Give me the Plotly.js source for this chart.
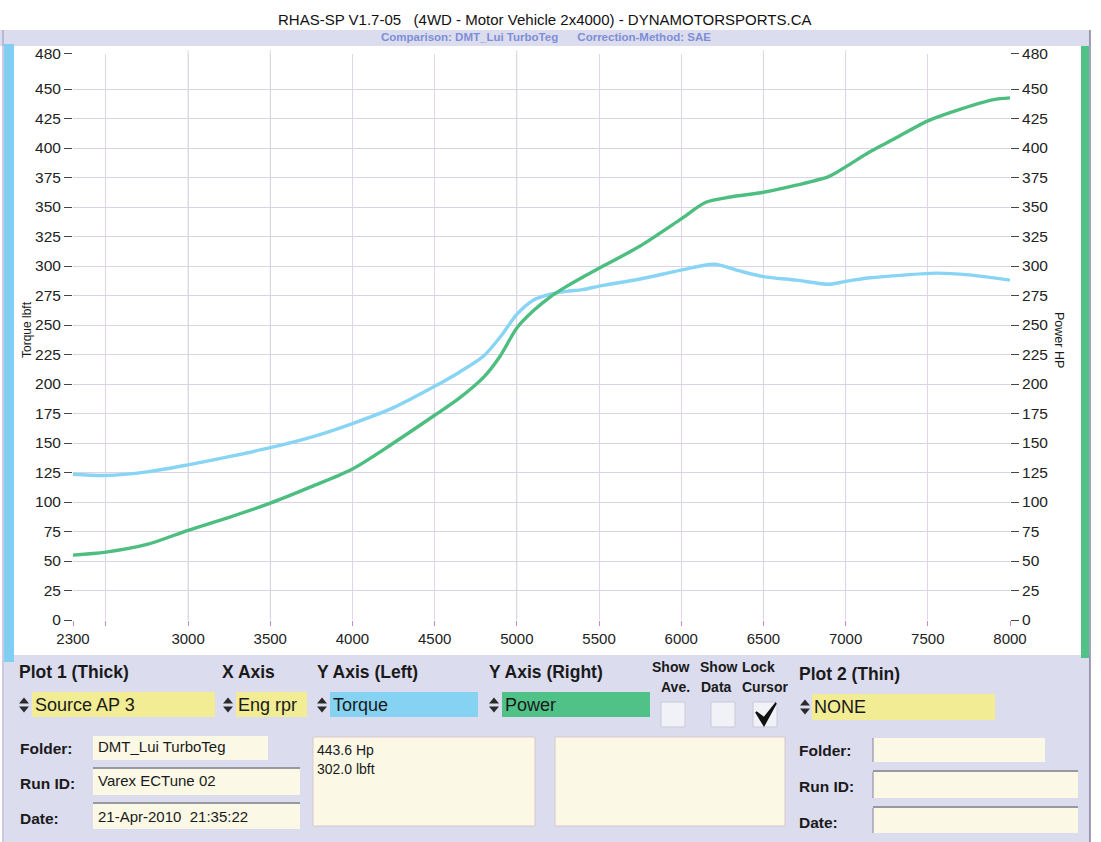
<!DOCTYPE html>
<html>
<head>
<meta charset="utf-8">
<script src="https://cdn.plot.ly/plotly-3.0.1.min.js"></script>
<style>html,body{margin:0;padding:0;background:#fff;}#chart{width:1101px;height:842px;}</style>
</head>
<body>
<div id="chart"></div>
<script>
// ---- data ----
const rpmTorque = [2300, 2500, 2750, 3000, 3250, 3500, 3750, 4000, 4250, 4500, 4650, 4800, 4900, 5000, 5100, 5200, 5300, 5400, 5500, 5750, 6000, 6200, 6350, 6500, 6700, 6900, 7000, 7150, 7350, 7550, 7750, 8000];
const torqueLbft = [123.5, 122.5, 125.5, 131.5, 138.5, 146, 155, 166.5, 180, 198, 210, 224, 240, 259, 271, 276, 278.5, 280, 283, 289, 296.5, 301.5, 296, 291, 288, 284.5, 287, 290, 292.3, 294, 292.5, 288];
const rpmPower = [2300, 2500, 2750, 3000, 3250, 3500, 3750, 4000, 4250, 4500, 4650, 4800, 4900, 5000, 5100, 5200, 5300, 5400, 5500, 5750, 6000, 6150, 6300, 6500, 6700, 6900, 7000, 7150, 7300, 7500, 7700, 7900, 8000];
const powerHp = [55, 57.5, 64, 76, 87, 99, 113, 128, 150, 173.5, 188, 206, 224, 247.5, 262, 273.5, 282.5, 290.5, 298, 317, 340, 354, 358.5, 362.5, 368.5, 376, 384, 397, 408, 423, 433, 441, 442.5];
const xTickVals = [2300, 2500, 3000, 3500, 4000, 4500, 5000, 5500, 6000, 6500, 7000, 7500, 8000];
const xTickText = ['2300', '', '3000', '3500', '4000', '4500', '5000', '5500', '6000', '6500', '7000', '7500', '8000'];
const yTickVals = [0, 25, 50, 75, 100, 125, 150, 175, 200, 225, 250, 275, 300, 325, 350, 375, 400, 425, 450, 480];
const greenGridRpm = [3000, 3500, 5000, 6500, 7000];

// ---- page helpers (pixel -> paper) ----
const W = 1101, H = 842;
const P = x => x / W;
const Q = y => 1 - y / H;
const FONT = 'Liberation Sans, Arial, sans-serif';

function rect(x0, y0, x1, y1, fill, lineColor, lw) {
  return {type: 'rect', xref: 'paper', yref: 'paper', x0: P(x0), x1: P(x1), y0: Q(y1), y1: Q(y0),
    fillcolor: fill, line: {color: lineColor || 'rgba(0,0,0,0)', width: lw || 0}, layer: 'below'};
}
function vline(x, y0, y1, color, w) {
  return {type: 'line', xref: 'paper', yref: 'paper', x0: P(x), x1: P(x), y0: Q(y0), y1: Q(y1),
    line: {color: color, width: w}, layer: 'below'};
}
function hline(x0, x1, y, color, w) {
  return {type: 'line', xref: 'paper', yref: 'paper', x0: P(x0), x1: P(x1), y0: Q(y), y1: Q(y),
    line: {color: color, width: w}, layer: 'below'};
}
function spinner(cx, cy) {
  const up = `M ${P(cx-5)} ${Q(cy-1.5)} L ${P(cx+5)} ${Q(cy-1.5)} L ${P(cx)} ${Q(cy-7.5)} Z`;
  const dn = `M ${P(cx-5)} ${Q(cy+1.5)} L ${P(cx+5)} ${Q(cy+1.5)} L ${P(cx)} ${Q(cy+7.5)} Z`;
  return [
    {type: 'path', xref: 'paper', yref: 'paper', path: up, fillcolor: '#2a2a2a', line: {width: 0}},
    {type: 'path', xref: 'paper', yref: 'paper', path: dn, fillcolor: '#2a2a2a', line: {width: 0}}
  ];
}
function txt(x, y, text, size, opts) {
  opts = opts || {};
  return Object.assign({xref: 'paper', yref: 'paper', x: P(x), y: Q(y), text: text, showarrow: false,
    xanchor: 'left', yanchor: 'middle', font: {family: FONT, size: size, color: '#1a1a1a'}}, opts);
}

const LAV = '#dcdcef';
const YEL = '#f2ec94';
const BLU = '#86d2f3';
const GRN = '#50c288';
const CREAM = '#fbf8e6';

const shapes = [
  rect(0, 30, 1090, 46, LAV),
  rect(4, 655, 1090, 842, LAV),
  rect(4, 44, 14, 662, '#80cff3'),
  rect(1081, 46, 1089, 658, GRN),
  vline(3, 30, 842, '#9c92c4', 1),
  vline(1090, 30, 842, '#6c618e', 1.2),
  rect(32, 692, 215, 717, YEL),
  rect(236, 692, 307, 717, YEL),
  rect(330, 692, 478, 717, BLU),
  rect(502, 692, 650, 717, GRN),
  rect(812, 694, 995, 720, YEL),
  rect(661, 702, 685, 727, '#f1f1f8', '#c9c9d8', 1),
  rect(711, 702, 735, 727, '#f1f1f8', '#c9c9d8', 1),
  rect(753, 702, 777, 727, '#f1f1f8', '#c9c9d8', 1),
  {type: 'path', xref: 'paper', yref: 'paper',
   path: `M ${P(756)} ${Q(712)} L ${P(764)} ${Q(725)} L ${P(776)} ${Q(703)} L ${P(764)} ${Q(718)} Z`,
   fillcolor: '#111', line: {color: '#111', width: 2}},
  rect(93, 736, 268, 760, CREAM),
  rect(93, 769, 300, 795, CREAM),
  hline(93, 300, 768, '#555', 1),
  rect(93, 804, 300, 829, CREAM),
  hline(93, 300, 803, '#555', 1),
  rect(313, 737, 535, 826, CREAM, '#d8c8c8', 1),
  rect(555, 737, 785, 826, CREAM, '#d8c8c8', 1),
  rect(873, 738, 1045, 762, CREAM),
  vline(873, 738, 762, '#8a7fa8', 1),
  rect(873, 772, 1078, 798, CREAM),
  vline(873, 772, 798, '#8a7fa8', 1),
  hline(873, 1078, 771, '#555', 1),
  rect(873, 808, 1078, 833, CREAM),
  vline(873, 808, 833, '#8a7fa8', 1),
  hline(873, 1078, 807, '#555', 1)
].concat(spinner(24, 705), spinner(228, 705), spinner(322, 705), spinner(494, 705), spinner(805, 707));

greenGridRpm.forEach(r => shapes.push({type: 'line', xref: 'x', yref: 'paper', x0: r, x1: r,
  y0: Q(620), y1: Q(50), line: {color: '#cde8cf', width: 1}, layer: 'below'}));

const annotations = [
  txt(545, 20, 'RHAS-SP V1.7-05\u00a0\u00a0\u00a0(4WD - Motor Vehicle 2x4000) - DYNAMOTORSPORTS.CA', 15, {xanchor: 'center', font: {family: FONT, size: 15, color: '#111'}}),
  txt(546, 37.5, '<b>Comparison: DMT_Lui TurboTeg\u00a0\u00a0\u00a0\u00a0\u00a0\u00a0Correction-Method: SAE</b>', 11.5, {xanchor: 'center', font: {family: FONT, size: 11.5, color: '#7d8ed6'}}),
  txt(27, 330, 'Torque lbft', 12, {xanchor: 'center', textangle: -90}),
  txt(1059, 340, 'Power HP', 12.5, {xanchor: 'center', textangle: 90}),
  txt(17, 672, '<b>Plot 1 (Thick)</b>', 17.5),
  txt(220, 672, '<b>X Axis</b>', 17.5),
  txt(315, 672, '<b>Y Axis (Left)</b>', 17.5),
  txt(487, 672, '<b>Y Axis (Right)</b>', 17.5),
  txt(650, 667, '<b>Show</b>', 14),
  txt(698, 667, '<b>Show</b>', 14),
  txt(740, 667, '<b>Lock</b>', 14),
  txt(659, 687, '<b>Ave.</b>', 14),
  txt(699, 687, '<b>Data</b>', 14),
  txt(740, 687, '<b>Cursor</b>', 14),
  txt(797, 674, '<b>Plot 2 (Thin)</b>', 17.5),
  txt(33, 705, 'Source AP 3', 18),
  txt(236, 705, 'Eng rpr', 18),
  txt(331, 705, 'Torque', 18),
  txt(503, 705, 'Power', 18),
  txt(812, 707, 'NONE', 18),
  txt(18, 748, '<b>Folder:</b>', 15.5),
  txt(18, 783, '<b>Run ID:</b>', 15.5),
  txt(18, 818, '<b>Date:</b>', 15.5),
  txt(96, 746, 'DMT_Lui TurboTeg', 15),
  txt(96, 780, 'Varex ECTune 02', 15),
  txt(96, 816, '21-Apr-2010\u00a0\u00a021:35:22', 15),
  txt(315, 750, '443.6 Hp', 14),
  txt(315, 769, '302.0 lbft', 14),
  txt(797, 750, '<b>Folder:</b>', 15.5),
  txt(797, 786, '<b>Run ID:</b>', 15.5),
  txt(797, 822, '<b>Date:</b>', 15.5)
];

const traces = [
  {x: rpmTorque, y: torqueLbft, type: 'scatter', mode: 'lines', name: 'Torque',
   line: {color: '#88d4f4', width: 3.4, shape: 'spline', smoothing: 0.8}, xaxis: 'x', yaxis: 'y', hoverinfo: 'x+y'},
  {x: rpmPower, y: powerHp, type: 'scatter', mode: 'lines', name: 'Power',
   line: {color: '#4dbd80', width: 3.4, shape: 'spline', smoothing: 0.8}, xaxis: 'x', yaxis: 'y2', hoverinfo: 'x+y'}
];

const layout = {
  width: W, height: H, autosize: false,
  margin: {l: 0, r: 0, t: 0, b: 0, pad: 0},
  paper_bgcolor: '#ffffff', plot_bgcolor: '#ffffff',
  showlegend: false,
  xaxis: {domain: [P(73), P(1010)], range: [2300, 8000], tickmode: 'array', tickvals: xTickVals, ticktext: xTickText,
    ticks: 'outside', ticklen: 5, tickcolor: '#c58ac8', showgrid: true, gridcolor: '#e0d4ea', gridwidth: 1,
    zeroline: false, showline: false, tickfont: {family: FONT, size: 15, color: '#222'}, fixedrange: true},
  yaxis: {domain: [Q(620), Q(53.6)], range: [0, 480], tickmode: 'array', tickvals: yTickVals,
    ticks: 'outside', ticklen: 8, tickcolor: '#444', showgrid: true, gridcolor: '#d8d4e0', gridwidth: 1,
    zeroline: false, showline: false, tickfont: {family: FONT, size: 15.5, color: '#222'}, ticklabelstandoff: 0},
  yaxis2: {overlaying: 'y', side: 'right', anchor: 'x', range: [0, 480], tickmode: 'array', tickvals: yTickVals,
    ticks: 'outside', ticklen: 8, tickcolor: '#444', showgrid: false, zeroline: false, showline: false,
    tickfont: {family: FONT, size: 15.5, color: '#222'}, ticklabelstandoff: 0},
  shapes: shapes,
  annotations: annotations
};

Plotly.newPlot('chart', traces, layout, {displayModeBar: false, staticPlot: true});
</script>
</body>
</html>
